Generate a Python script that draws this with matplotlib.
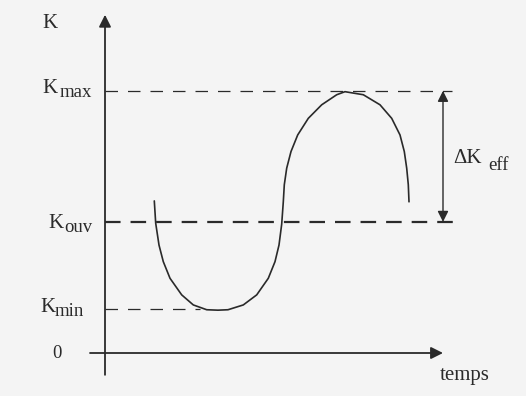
import matplotlib.pyplot as plt
from matplotlib.patches import FancyArrowPatch

# K levels (in units of K_min)
k_min = 1.0
k_ouv = 3.0
k_max = 6.0

# curve: time (arbitrary units) and K
t = [49.3, 50.7, 54, 58.3, 65, 76.7, 88.3, 101.7, 113, 123, 138.3, 151.7,
     163.3, 170, 174, 176.7, 178.3, 179.3, 181.7, 186, 192.7, 203.3, 216.7,
     231.7, 240, 258.3, 275, 286.7, 295, 299.3, 301.7, 303.3, 304]
k = [3.48, 2.97, 2.47, 2.09, 1.71, 1.33, 1.10, 0.99, 0.98, 0.99, 1.10, 1.33,
     1.71, 2.09, 2.47, 2.95, 3.46, 3.85, 4.23, 4.61, 4.99, 5.37, 5.68,
     5.91, 5.98, 5.91, 5.68, 5.37, 4.99, 4.61, 4.23, 3.85, 3.46]

ink = '#2a2a2a'
bg = '#f4f4f4'
serif = 'Liberation Serif'

fig = plt.figure(figsize=(5.26, 3.96), dpi=100, facecolor=bg)
ax = fig.add_axes([0, 0, 1, 1])
ax.set_facecolor(bg)
ax.set_xlim(-105, 421)
ax.set_ylim(-0.984, 8.078)
ax.axis('off')

# axes with arrows
ax.annotate('', xy=(0, 7.74), xytext=(0, -0.50),
            arrowprops=dict(arrowstyle='-|>', color=ink, lw=1.3,
                            mutation_scale=18, shrinkA=0, shrinkB=0))
ax.annotate('', xy=(338, 0), xytext=(-15, 0),
            arrowprops=dict(arrowstyle='-|>', color=ink, lw=1.3,
                            mutation_scale=18, shrinkA=0, shrinkB=0))

# dashed levels
ax.plot([0, 347], [k_max, k_max], color=ink, lw=0.9, ls=(0, (10, 8)))
ax.plot([0, 350], [k_ouv, k_ouv], color=ink, lw=1.6, ls=(0, (7, 4.5)))
ax.plot([0, 95], [k_min, k_min], color=ink, lw=0.9, ls=(0, (10, 8)))

# the K(t) curve
ax.plot(t, k, color=ink, lw=1.2, solid_capstyle='round', solid_joinstyle='round')

# delta K arrow
ax.add_patch(FancyArrowPatch((338, k_ouv), (338, k_max), arrowstyle='<|-|>',
                             mutation_scale=16, color=ink, lw=1.0,
                             shrinkA=0, shrinkB=0))

big = 15
small = 13.5
ax.text(-63, 7.44, 'K', fontsize=big, family=serif, color=ink, va='baseline')
ax.text(-63, 5.95, 'K', fontsize=big, family=serif, color=ink, va='baseline')
ax.text(-45, 5.86, 'max', fontsize=small, family=serif, color=ink, va='baseline')
ax.text(-57, 2.86, 'K', fontsize=big, family=serif, color=ink, va='baseline')
ax.text(-41, 2.77, 'ouv', fontsize=small, family=serif, color=ink, va='baseline')
ax.text(-65, 0.94, 'K', fontsize=big, family=serif, color=ink, va='baseline')
ax.text(-50, 0.85, 'min', fontsize=small, family=serif, color=ink, va='baseline')
ax.text(-48, -0.02, '0', fontsize=small, family=serif, color=ink,
        ha='center', va='center')
ax.text(335, -0.62, 'temps', fontsize=big, family=serif, color=ink, va='baseline')
ax.text(348, 4.35, '\u0394K', fontsize=big, family=serif, color=ink, va='baseline')
ax.text(383, 4.19, 'eff', fontsize=small, family=serif, color=ink, va='baseline')

fig.savefig('out.png', dpi=100, facecolor=bg)
